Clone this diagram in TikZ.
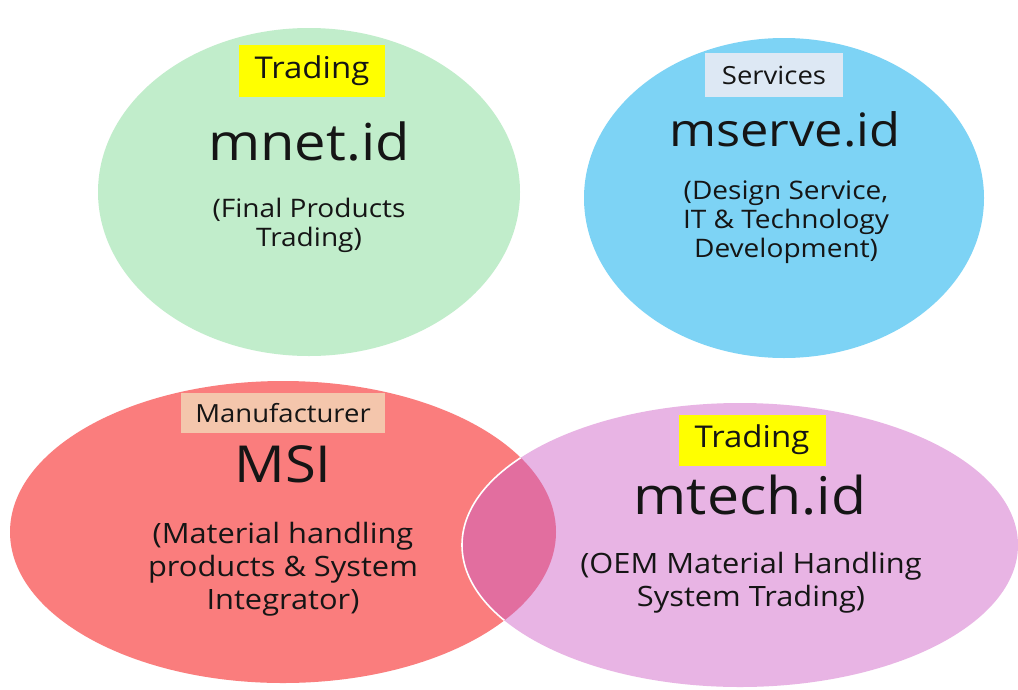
\documentclass[tikz,border=0pt]{standalone}
\usepackage{fontspec}
\setmainfont{Open Sans}[FakeStretch=1.1]
\definecolor{cgreen}{HTML}{C1EDCB}
\definecolor{cblue}{HTML}{7DD3F5}
\definecolor{cred}{HTML}{FA7D7D}
\definecolor{cpink}{HTML}{E8B4E4}
\definecolor{cover}{HTML}{E26E9F}
\definecolor{cyel}{HTML}{FFFF00}
\definecolor{csvc}{HTML}{DDE8F4}
\definecolor{cman}{HTML}{F4C6AC}
\definecolor{ctext}{HTML}{151515}
\tikzset{
  tag/.style={inner sep=0pt, minimum height=#1, text=ctext},
  big/.style={text=ctext, font=\fontsize{51}{60}\selectfont},
  sub/.style={text=ctext, align=center, font=\fontsize{25.5}{29}\selectfont},
}
\begin{document}
\begin{tikzpicture}[x=1pt,y=-1pt]
\useasboundingbox (0,0) rectangle (1018,689);
\fill[white] (0,0) rectangle (1018,689);
% ellipses
\fill[cgreen] (309,192) ellipse [x radius=211, y radius=164];
\fill[cblue] (784,198) ellipse [x radius=200, y radius=160];
\fill[cred] (283,532) ellipse [x radius=273, y radius=151];
\fill[cpink] (740,545) ellipse [x radius=278, y radius=142];
\begin{scope}
  \clip (283,532) ellipse [x radius=273, y radius=151];
  \fill[cover] (740,545) ellipse [x radius=278, y radius=142];
  \draw[white, line width=1.6pt] (740,545) ellipse [x radius=278, y radius=142];
\end{scope}
% green
\node[tag=52pt, fill=cyel, minimum width=146pt, font=\fontsize{30}{33}\selectfont] (t1) at (312,71) {Trading};
\node[big] (n1) at (309,141) {mnet.id};
\node[sub] (s1) at (309,225) {(Final Products\\Trading)};
% blue
\node[tag=44pt, fill=csvc, minimum width=138pt, font=\fontsize{25}{27}\selectfont] (t2) at (774,75) {Services};
\node[big, font=\fontsize{46}{55}\selectfont] (n2) at (785,129) {mserve.id};
\node[sub] (s2) at (786,222) {(Design Service,\\IT \& Technology\\Development)};
% red
\node[tag=40pt, fill=cman, minimum width=204pt, font=\fontsize{25}{27}\selectfont] (t3) at (283,413) {Manufacturer};
\node[big] (n3) at (283,464) {MSI};
\node[sub, font=\fontsize{28}{33}\selectfont] (s3) at (283,569) {(Material handling\\products \& System\\Integrator)};
% pink
\node[tag=51pt, fill=cyel, minimum width=147pt, font=\fontsize{30}{33}\selectfont] (t4) at (752,440) {Trading};
\node[big, font=\fontsize{52}{60}\selectfont] (n4) at (750,495) {mtech.id};
\node[sub, font=\fontsize{28}{33}\selectfont] (s4) at (751,583) {(OEM Material Handling\\System Trading)};
\end{tikzpicture}
\end{document}
